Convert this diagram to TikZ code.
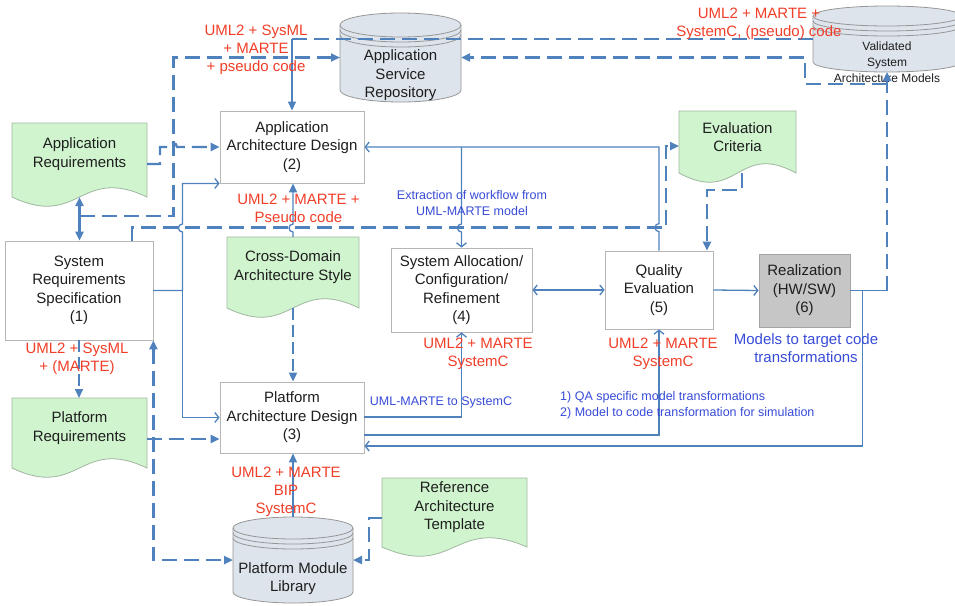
\documentclass[tikz,border=0pt]{standalone}
\usepackage{fontspec}
\setmainfont{Liberation Sans}
\usetikzlibrary{arrows.meta,backgrounds}

\definecolor{flow}{RGB}{79,129,189}
\definecolor{leaf}{RGB}{208,244,206}
\definecolor{leafedge}{RGB}{160,182,160}
\definecolor{boxedge}{RGB}{182,182,182}
\definecolor{drumfill}{RGB}{222,228,236}
\definecolor{drumedge}{RGB}{150,150,150}
\definecolor{realfill}{RGB}{198,198,198}
\definecolor{realedge}{RGB}{165,165,165}
\definecolor{notered}{RGB}{240,62,40}
\definecolor{noteblue}{RGB}{55,75,215}
\definecolor{ink}{RGB}{30,30,30}

\tikzset{
  txt/.style={font=\fontsize{15}{18.5}\selectfont, text=ink, align=center, inner sep=0pt},
  stepbox/.style={txt, draw=boxedge, line width=0.8pt, fill=white},
  realbox/.style={txt, draw=realedge, line width=0.8pt, fill=realfill},
  frame/.style={inner sep=0pt, outer sep=0pt},
  docstyle/.style={fill=leaf, draw=leafedge, line width=0.8pt},
  drumstyle/.style={fill=drumfill, draw=drumedge, line width=0.8pt},
  rednote/.style={font=\fontsize{15}{18}\selectfont, text=notered, align=center, inner sep=0pt},
  bluenote/.style={font=\fontsize{12.5}{15.5}\selectfont, text=noteblue, align=center, inner sep=0pt},
  solidlink/.style={draw=flow, line width=1.3pt},
  heavylink/.style={draw=flow, line width=2.6pt},
  dashlink/.style={draw=flow, line width=2.3pt, dash pattern=on 15pt off 7pt},
  dashthin/.style={draw=flow, line width=1.8pt, dash pattern=on 12pt off 5pt},
  openhead/.tip={Straight Barb[length=4pt,width=10pt]},
  fullhead/.tip={Triangle[length=9pt,width=8pt]},
}

% document symbol: flat top, wavy bottom edge
\newcommand\docpath[1]{%
  \filldraw[docstyle] (#1.south west) -- (#1.north west) -- (#1.north east) -- (#1.south east)
    .. controls ([yshift=32pt]#1.south) and ([yshift=-32pt]#1.south) .. (#1.south west) -- cycle;}

% storage drum: name, x radius, y radius
\newcommand\drum[3]{%
  \filldraw[drumstyle] ([yshift=-#3]#1.north west) -- ([yshift=#3]#1.south west)
     arc[start angle=180, end angle=360, x radius=#2, y radius=#3]
     -- ([yshift=-#3]#1.north east)
     arc[start angle=0, end angle=180, x radius=#2, y radius=#3] -- cycle;
  \draw[drumstyle, fill=none] ([yshift=-#3]#1.north west) arc[start angle=180, end angle=360, x radius=#2, y radius=#3];
  \draw[drumstyle, fill=none] ([yshift=-#3-5pt]#1.north west) arc[start angle=180, end angle=360, x radius=#2, y radius=#3];
  \draw[drumstyle, fill=none] ([yshift=-#3-10pt]#1.north west) arc[start angle=180, end angle=360, x radius=#2, y radius=#3];}

\begin{document}
\begin{tikzpicture}[x=1pt,y=-1pt]
\useasboundingbox (0,0) rectangle (955,605);

% process steps
\node[stepbox, minimum width=148pt, minimum height=99pt] (sysreq) at (79,290.5) {System\\Requirements\\Specification\\(1)};
\node[stepbox, minimum width=144pt, minimum height=72pt] (aad) at (292,147) {Application\\Architecture Design\\(2)};
\node[stepbox, minimum width=144pt, minimum height=71pt] (pad) at (292,417.5) {Platform\\Architecture Design\\(3)};
\node[stepbox, minimum width=141pt, minimum height=84pt] (sac) at (461.5,290) {System Allocation/\\Configuration/\\Refinement\\(4)};
\node[stepbox, minimum width=108pt, minimum height=78pt] (qe) at (659,290) {Quality\\Evaluation\\(5)};
\node[realbox, minimum width=91pt, minimum height=73pt] (real) at (804.5,290.5) {Realization\\(HW/SW)\\(6)};

% documents
\node[frame, minimum width=135pt, minimum height=74pt, label={[txt,yshift=6pt]center:Application\\Requirements}] (appreq) at (79.5,160) {};
\node[frame, minimum width=135pt, minimum height=70pt, label={[txt,yshift=5pt]center:Platform\\Requirements}] (platreq) at (79.5,433) {};
\node[frame, minimum width=117pt, minimum height=62pt, label={[txt,yshift=5pt]center:Evaluation\\Criteria}] (evalcrit) at (737.5,142) {};
\node[frame, minimum width=132pt, minimum height=71pt, label={[txt,yshift=5.5pt]center:Cross-Domain\\Architecture Style}] (crossdom) at (293,272.5) {};
\node[frame, minimum width=145pt, minimum height=69pt, label={[txt,yshift=5pt]center:Reference\\Architecture\\Template}] (refarch) at (454.5,512.5) {};

% repositories
\node[frame, minimum width=121pt, minimum height=89pt, label={[txt,yshift=-18pt]center:Application\\Service\\Repository}] (asr) at (400.5,57.5) {};
\node[frame, minimum width=120pt, minimum height=86pt, label={[txt,yshift=-18.5pt]center:Platform Module\\Library}] (pml) at (293,560) {};
\node[frame, minimum width=148pt, minimum height=66pt, label={[txt,font=\fontsize{12}{16}\selectfont,yshift=-23pt]center:Validated\\System\\Architecture Models}] (valid) at (887,39) {};

\begin{pgfonlayer}{background}
  \docpath{appreq}
  \docpath{platreq}
  \docpath{evalcrit}
  \docpath{crossdom}
  \docpath{refarch}
  \drum{asr}{60.5pt}{12pt}
  \drum{pml}{60pt}{11pt}
  \drum{valid}{74pt}{10pt}
\end{pgfonlayer}

% solid flows (small hops where they cross the long dashed line)
\draw[solidlink, -openhead] (sysreq.east) -- ++(29,0) -- ++(0,-58.5)
  arc[start angle=270, end angle=90, radius=4pt] |- (aad.south west);
\draw[solidlink, -openhead] (sysreq.east) -- ++(29,0) |- (pad.west);
\draw[solidlink, -openhead] (qe.north) -- ++(0,-19)
  arc[start angle=270, end angle=90, radius=4pt] |- (aad.east);
\draw[solidlink, -openhead] (sac.north |- aad.east) -- ++(0,77)
  arc[start angle=90, end angle=270, radius=4pt] -- (sac.north);
\draw[solidlink, openhead-openhead] (sac.east) -- (qe.west);
\draw[solidlink, -openhead] (qe.east) -- (real.west);
\draw[solidlink, -openhead] (real.east) -- ++(12,0) |- ([yshift=-28.5pt]pad.east);
\draw[solidlink, -openhead] ([yshift=-17.5pt]pad.east) -| (qe.south);
\draw[solidlink, -openhead] ([yshift=0.5pt]pad.east) -| (sac.south);
\draw[solidlink] (real.east) -- (real.east -| valid.south);
\draw[solidlink, -fullhead] (valid.west -| aad.north) -- (aad.north);
\draw[solidlink, -fullhead] (crossdom.north) -- ++(0,-5)
  arc[start angle=270, end angle=90, radius=4pt] -- (crossdom.north |- aad.south);
\draw[solidlink, -fullhead] (pml.north) -- (pml.north |- pad.south);
\draw[heavylink, fullhead-fullhead] (appreq.south) -- (appreq.south |- sysreq.north);

% dashed flows
\draw[dashlink, -fullhead] (real.east -| valid.south) -- (valid.south);
\draw[dashlink, -fullhead] ([yshift=-12pt]valid.south) -- ++(-82,0) |- (asr.east);
\draw[dashlink] (valid.west) -- (valid.west -| aad.north);
\draw[dashlink, -fullhead] ([yshift=-19pt]appreq.south) -- ++(94,0) |- (asr.west);
\draw[dashlink, -fullhead] ([yshift=-4pt]appreq.east) -- ++(13,0) -- ++(0,-17) -- ++(9,0)
  arc[start angle=180, end angle=0, radius=4pt] -- (aad.west);
\draw[dashthin, -fullhead] (crossdom.south) -- (crossdom.south |- pad.north);
\draw[dashlink, -fullhead] ([yshift=-5.5pt]refarch.west) -- ++(-13,0) |- (pml.east);
\draw[dashlink, -fullhead] ([yshift=-6pt]platreq.east) -- ([yshift=-6pt]platreq.east -| pad.west);
\draw[dashlink, fullhead-fullhead] (sysreq.south east) |- (pml.west);
\draw[dashthin, -fullhead] (sysreq.south) -- (sysreq.south |- platreq.north);
\draw[dashlink, -fullhead] ([xshift=53pt]sysreq.north) -- ++(0,-13) -| ([xshift=-13pt,yshift=-4pt]evalcrit.west) -- ([yshift=-4pt]evalcrit.west);
\draw[dashlink, -fullhead] ([xshift=4.5pt]evalcrit.south) -- ++(0,17) -| ([xshift=48pt]qe.north);

% model notations
\node[rednote] (n1) at (256,50) {UML2 + SysML\\+ MARTE\\+ pseudo code};
\node[rednote] (n2) at (298.5,208.5) {UML2 + MARTE +\\Pseudo code};
\node[rednote] (n3) at (77,359) {UML2 + SysML\\+ (MARTE)};
\node[rednote] (n4) at (478,354) {UML2 + MARTE\\SystemC};
\node[rednote] (n5) at (663,354) {UML2 + MARTE\\SystemC};
\node[rednote] (n6) at (286,492) {UML2 + MARTE\\BIP\\SystemC};
\node[rednote] (n7) at (759,24) {UML2 + MARTE +\\SystemC, (pseudo) code};

% transformation notes
\node[bluenote] (t1) at (472,203) {Extraction of workflow from\\UML-MARTE model};
\node[bluenote] (t2) at (441,402) {UML-MARTE to SystemC};
\node[bluenote, align=left, anchor=west] (t3) at (560,405.5) {1) QA specific model transformations\\2) Model to code transformation for simulation};
\node[bluenote, font=\fontsize{15}{18}\selectfont] (t4) at (806,348) {Models to target code\\transformations};
\end{tikzpicture}
\end{document}
